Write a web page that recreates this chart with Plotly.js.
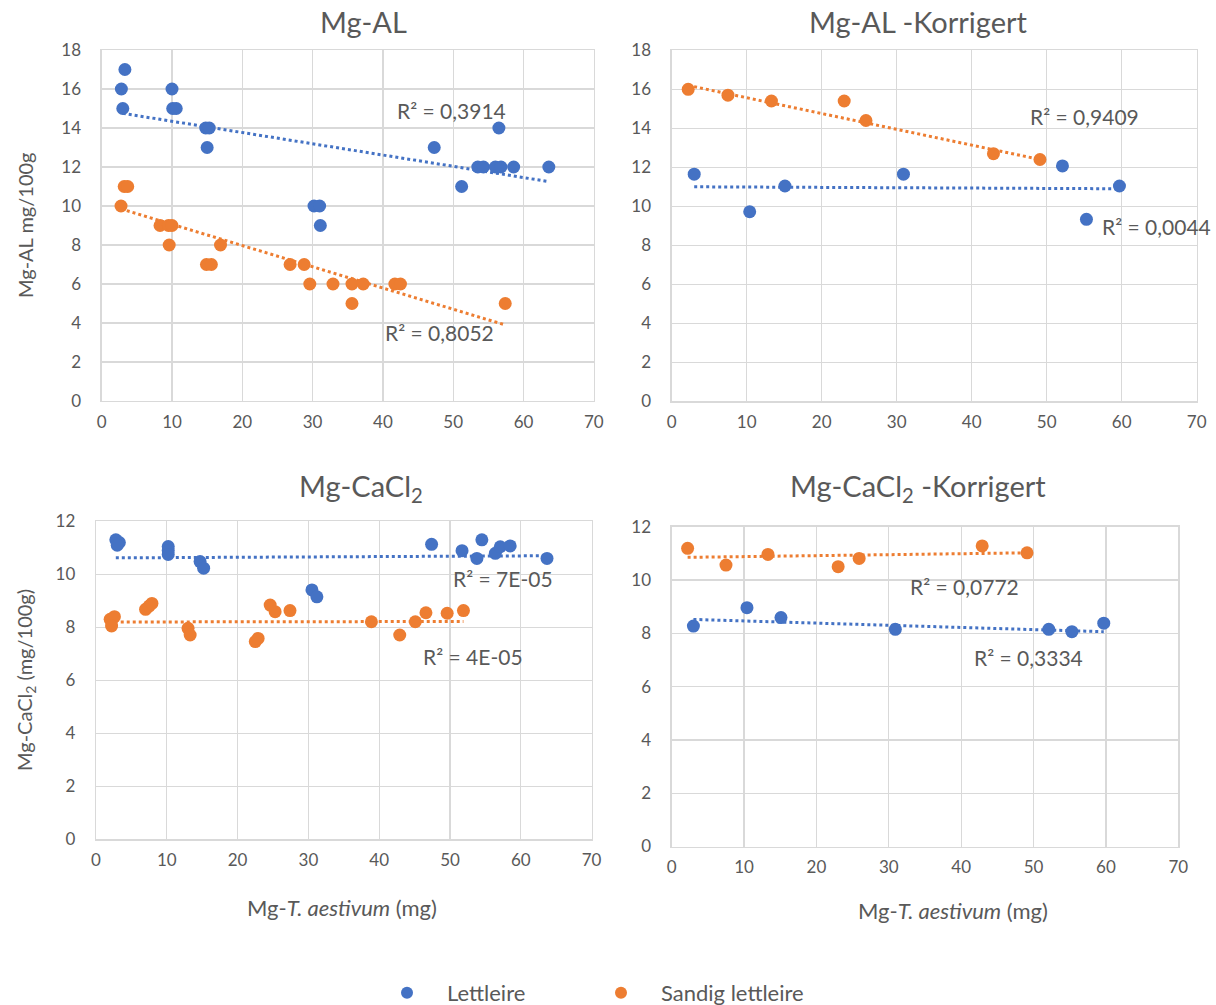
<!DOCTYPE html>
<html>
<head>
<meta charset="utf-8">
<script src="https://cdn.plot.ly/plotly-3.0.1.min.js"></script>
<style>html,body{margin:0;padding:0;background:#fff;}#chart{width:1216px;height:1005px;}</style>
</head>
<body>
<div id="chart"></div>
<script>
// ---------- DATA ----------
const seriesNames = ["Lettleire", "Sandig lettleire"];

// Mg-AL
const alLettX = [3.3, 2.8, 10.0, 3.0, 10.1, 10.6, 14.8, 15.3, 15.0, 30.2, 31.0, 31.1, 47.3, 56.5, 51.2, 53.5, 54.3, 56.0, 56.8, 58.6, 63.6];
const alLettY = [17, 16, 16, 15, 15, 15, 14, 14, 13, 10, 10, 9, 13, 14, 11, 12, 12, 12, 12, 12, 12];
const alSandX = [3.2, 3.7, 2.75, 8.3, 9.5, 10.0, 9.6, 14.9, 15.6, 16.9, 26.8, 28.8, 29.6, 32.9, 35.6, 37.2, 41.7, 42.5, 35.6, 57.4];
const alSandY = [11, 11, 10, 9, 9, 9, 8, 7, 7, 8, 7, 7, 6, 6, 6, 6, 6, 6, 5, 5];
const alLettTrendX = [3.0, 63.6], alLettTrendY = [14.75, 11.25];
const alSandTrendX = [2.75, 57.4], alSandTrendY = [9.85, 3.9];

// Mg-AL -Korrigert
const korLettX = [3.0, 10.4, 15.1, 30.9, 52.1, 55.3, 59.7];
const korSandX = [2.2, 7.5, 13.3, 23.0, 25.9, 42.9, 49.1];
const alkLettY = [11.65, 9.72, 11.04, 11.65, 12.07, 9.33, 11.04];
const alkSandY = [16.0, 15.7, 15.4, 15.4, 14.4, 12.7, 12.4];
const alkLettTrendX = [3.0, 59.7], alkLettTrendY = [11.0, 10.9];
const alkSandTrendX = [2.2, 49.1], alkSandTrendY = [16.2, 12.4];

// Mg-CaCl2
const caLettX = [2.8, 3.3, 3.0, 10.2, 10.2, 10.2, 14.7, 15.2, 30.5, 31.2, 47.4, 51.7, 54.5, 53.8, 56.4, 57.1, 58.5, 63.7];
const caLettY = [11.3, 11.2, 11.1, 11.05, 10.9, 10.75, 10.48, 10.23, 9.41, 9.15, 11.13, 10.89, 11.3, 10.6, 10.79, 11.04, 11.07, 10.6];
const caSandX = [2.0, 2.6, 2.2, 7.0, 7.5, 7.9, 13.0, 13.3, 22.5, 22.9, 24.6, 25.3, 27.4, 38.9, 42.9, 45.1, 46.6, 49.6, 51.9];
const caSandY = [8.3, 8.4, 8.05, 8.68, 8.8, 8.9, 7.96, 7.71, 7.46, 7.58, 8.84, 8.59, 8.63, 8.21, 7.71, 8.21, 8.55, 8.53, 8.63];
const caLettTrendX = [2.8, 63.7], caLettTrendY = [10.62, 10.7];
const caSandTrendX = [1.8, 51.9], caSandTrendY = [8.2, 8.22];

// Mg-CaCl2 -Korrigert
const cakLettY = [8.27, 8.96, 8.59, 8.15, 8.15, 8.06, 8.38];
const cakSandY = [11.19, 10.56, 10.96, 10.5, 10.81, 11.28, 11.02];
const cakLettTrendX = [3.0, 59.7], cakLettTrendY = [8.52, 8.06];
const cakSandTrendX = [2.2, 49.1], cakSandTrendY = [10.85, 11.02];

// R² labels [text, x, y, axis]
const r2Labels = [
  ["R² = 0,3914", 49.8, 14.9, 1], ["R² = 0,8052", 48.1, 3.5, 1],
  ["R² = 0,9409", 55.0, 14.6, 2], ["R² = 0,0044", 64.7, 8.95, 2],
  ["R² = 7E-05", 57.5, 9.85, 3], ["R² = 4E-05", 53.2, 6.88, 3],
  ["R² = 0,0772", 40.4, 9.75, 4], ["R² = 0,3334", 49.3, 7.11, 4]
];
const panelTitles = ["Mg-AL", "Mg-AL -Korrigert", "Mg-CaCl<sub>2</sub>", "Mg-CaCl<sub>2</sub> -Korrigert"];
const yTitles = ["Mg-AL mg/100g", "Mg-CaCl<sub>2</sub> (mg/100g)"];
const xTitle = "Mg-<i>T. aestivum</i> (mg)";

// ---------- STYLE ----------
const BLUE = "#4472C4", ORANGE = "#ED7D31", TXT = "#595959", GRID = "#d9d9d9";
const FONT = "Lato, 'Open Sans', sans-serif";

function pts(x, y, color, ax, name, show, legendId) {
  const t = {type: "scatter", mode: "markers", x: x, y: y, name: name, showlegend: show,
    legendgroup: name, xaxis: "x" + (ax === 1 ? "" : ax), yaxis: "y" + (ax === 1 ? "" : ax),
    marker: {color: color, size: 13}, hoverinfo: "x+y"};
  if (legendId) t.legend = legendId;
  return t;
}
function trend(x, y, color, ax) {
  return {type: "scatter", mode: "lines", x: x, y: y, showlegend: false,
    xaxis: "x" + (ax === 1 ? "" : ax), yaxis: "y" + (ax === 1 ? "" : ax),
    line: {color: color, width: 3, dash: "3px,3px"}, hoverinfo: "skip"};
}

const data = [
  trend(alLettTrendX, alLettTrendY, BLUE, 1), trend(alSandTrendX, alSandTrendY, ORANGE, 1),
  pts(alLettX, alLettY, BLUE, 1, seriesNames[0], true, "legend"), pts(alSandX, alSandY, ORANGE, 1, seriesNames[1], true, "legend2"),
  trend(alkLettTrendX, alkLettTrendY, BLUE, 2), trend(alkSandTrendX, alkSandTrendY, ORANGE, 2),
  pts(korLettX, alkLettY, BLUE, 2, seriesNames[0], false), pts(korSandX, alkSandY, ORANGE, 2, seriesNames[1], false),
  trend(caLettTrendX, caLettTrendY, BLUE, 3), trend(caSandTrendX, caSandTrendY, ORANGE, 3),
  pts(caLettX, caLettY, BLUE, 3, seriesNames[0], false), pts(caSandX, caSandY, ORANGE, 3, seriesNames[1], false),
  trend(cakLettTrendX, cakLettTrendY, BLUE, 4), trend(cakSandTrendX, cakSandTrendY, ORANGE, 4),
  pts(korLettX, cakLettY, BLUE, 4, seriesNames[0], false), pts(korSandX, cakSandY, ORANGE, 4, seriesNames[1], false)
];

const W = 1216, H = 1005;
function xd(a, b) { return [a / W, b / W]; }
function yd(top, bottom) { return [1 - bottom / H, 1 - top / H]; }

function xax(dom, anchor) {
  return {domain: dom, anchor: anchor, range: [0, 70], dtick: 10, tick0: 0, showgrid: true, gridcolor: GRID, gridwidth: 1.3,
    zeroline: false, showline: true, linecolor: GRID, linewidth: 1.3, mirror: true,
    ticks: "outside", ticklen: 5, tickcolor: "rgba(0,0,0,0)",
    tickfont: {family: FONT, size: 17, color: TXT}, fixedrange: true};
}
function yax(dom, anchor, max) {
  return {domain: dom, anchor: anchor, range: [0, max], dtick: 2, tick0: 0, showgrid: true, gridcolor: GRID, gridwidth: 1.3,
    zeroline: false, showline: true, linecolor: GRID, linewidth: 1.3, mirror: true,
    ticks: "outside", ticklen: 16, tickcolor: "rgba(0,0,0,0)",
    tickfont: {family: FONT, size: 17, color: TXT}, fixedrange: true};
}

const annotations = [];
const titlePos = [[363, 22], [918, 22], [361, 487], [918, 487]];
panelTitles.forEach((t, i) => annotations.push({text: t, xref: "paper", yref: "paper",
  x: titlePos[i][0] / W, y: 1 - titlePos[i][1] / H, xanchor: "center", yanchor: "middle", showarrow: false,
  font: {family: FONT, size: 29, color: TXT}}));
const yTitlePos = [225, 680];
yTitles.forEach((t, i) => annotations.push({text: t, xref: "paper", yref: "paper", textangle: -90,
  x: 25 / W, y: 1 - yTitlePos[i] / H, xanchor: "center", yanchor: "middle", showarrow: false,
  font: {family: FONT, size: 20, color: TXT}}));
[[342, 907], [953, 910]].forEach(p => annotations.push({text: xTitle, xref: "paper", yref: "paper",
  x: p[0] / W, y: 1 - p[1] / H, xanchor: "center", yanchor: "middle", showarrow: false,
  font: {family: FONT, size: 22, color: TXT}}));
r2Labels.forEach(r => annotations.push({text: r[0], xref: "x" + (r[3] === 1 ? "" : r[3]), yref: "y" + (r[3] === 1 ? "" : r[3]),
  x: r[1], y: r[2], xanchor: "center", yanchor: "middle", showarrow: false,
  font: {family: FONT, size: 21, color: TXT}}));

function legendAt(px) {
  return {orientation: "h", x: px / W, y: 1 - 993 / H, xanchor: "left", yanchor: "middle",
    itemwidth: 70, itemsizing: "constant",
    font: {family: FONT, size: 22, color: TXT}, bgcolor: "rgba(0,0,0,0)"};
}

const layout = {
  width: W, height: H, margin: {l: 0, r: 0, t: 0, b: 0, autoexpand: false},
  paper_bgcolor: "#fff", plot_bgcolor: "#fff",
  font: {family: FONT, color: TXT},
  xaxis: xax(xd(101.7, 593.8), "y"), yaxis: yax(yd(50, 401), "x", 18),
  xaxis2: xax(xd(671.7, 1196.7), "y2"), yaxis2: yax(yd(50.3, 401.3), "x2", 18),
  xaxis3: xax(xd(96, 591.6), "y3"), yaxis3: yax(yd(521.3, 839.3), "x3", 12),
  xaxis4: xax(xd(671.7, 1178.3), "y4"), yaxis4: yax(yd(526.7, 846.5), "x4", 12),
  showlegend: true,
  legend: legendAt(367),
  legend2: legendAt(581),
  annotations: annotations
};

Plotly.newPlot("chart", data, layout, {displayModeBar: false, staticPlot: true});
</script>
</body>
</html>
